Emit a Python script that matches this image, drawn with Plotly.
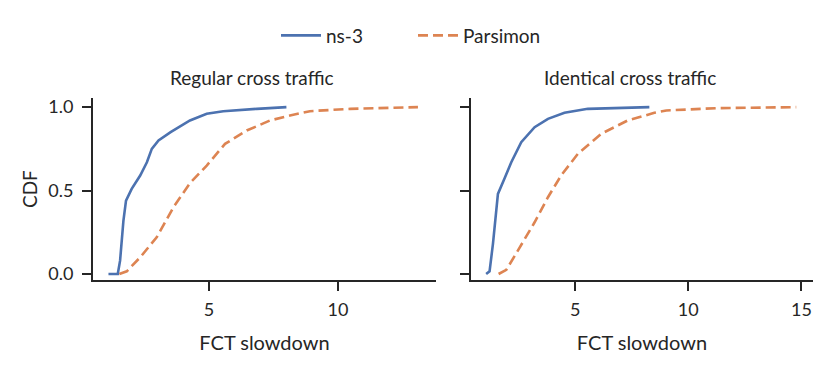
import plotly.graph_objects as go
from plotly.subplots import make_subplots

# Regular cross traffic
reg_ns3_x = [1.10, 1.46, 1.55, 1.68, 1.78, 2.00, 2.33, 2.59, 2.78, 3.04, 3.51, 4.26, 4.91, 5.55, 6.85, 8.00]
reg_ns3_y = [0.0, 0.0, 0.08, 0.32, 0.44, 0.51, 0.59, 0.67, 0.75, 0.80, 0.85, 0.92, 0.96, 0.976, 0.99, 1.0]
reg_pars_x = [1.52, 1.81, 2.33, 2.97, 3.62, 4.26, 4.91, 5.62, 6.46, 7.36, 8.14, 8.91, 10.47, 13.1]
reg_pars_y = [0.0, 0.016, 0.10, 0.22, 0.40, 0.545, 0.65, 0.78, 0.86, 0.92, 0.95, 0.976, 0.99, 1.0]

# Identical cross traffic
idn_ns3_x = [1.07, 1.22, 1.37, 1.59, 1.89, 2.18, 2.62, 3.21, 3.80, 4.53, 5.56, 6.88, 8.28]
idn_ns3_y = [0.0, 0.016, 0.18, 0.48, 0.575, 0.67, 0.79, 0.88, 0.93, 0.966, 0.99, 0.996, 1.0]
idn_pars_x = [1.62, 1.96, 2.47, 3.21, 3.80, 4.38, 5.12, 6.15, 7.32, 8.50, 9.03, 11.24, 14.77]
idn_pars_y = [0.0, 0.025, 0.14, 0.31, 0.46, 0.59, 0.72, 0.84, 0.92, 0.966, 0.98, 0.994, 1.0]

titles = ["Regular cross traffic", "Identical cross traffic"]
x_ticks = [5, 10, 15]
y_ticks = [0.0, 0.5, 1.0]

BLUE = '#4c72b0'
ORANGE = '#dd8452'
INK = '#262626'
FONT = 'Lato, DejaVu Sans, sans-serif'
W, H = 830, 371
OFF = 8  # page body margin pushes the figure by this much


def px_x(px):
    return (px - OFF) / W


def px_y(py):
    return 1 - (py - OFF) / H


fig = make_subplots(rows=1, cols=2, horizontal_spacing=0.04)

panels = [(reg_ns3_x, reg_ns3_y, reg_pars_x, reg_pars_y),
          (idn_ns3_x, idn_ns3_y, idn_pars_x, idn_pars_y)]
for i, (nx, ny, px, py) in enumerate(panels):
    fig.add_trace(go.Scatter(x=nx, y=ny, mode='lines', name='ns-3', showlegend=(i == 0),
                             line=dict(color=BLUE, width=2.6)), row=1, col=i + 1)
    fig.add_trace(go.Scatter(x=px, y=py, mode='lines', name='Parsimon', showlegend=(i == 0),
                             line=dict(color=ORANGE, width=2.6, dash='10px,5px')), row=1, col=i + 1)

axis_style = dict(showline=True, linecolor=INK, linewidth=2, ticks='outside', ticklen=9,
                  tickwidth=2, tickcolor=INK, showgrid=False, zeroline=False, mirror=False,
                  tickfont=dict(size=18, color=INK, family=FONT))

fig.update_xaxes(**axis_style, tickvals=x_ticks, ticklabelstandoff=4,
                 title=dict(text='FCT slowdown', font=dict(size=20, color=INK, family=FONT), standoff=17))
fig.update_xaxes(range=[0.5, 13.8], domain=[px_x(93), px_x(436)], row=1, col=1)
fig.update_xaxes(range=[0.40, 15.51], domain=[px_x(471), px_x(813)], row=1, col=2)

fig.update_yaxes(**axis_style, tickvals=y_ticks, tickformat='.1f', range=[-0.035, 1.053],
                 domain=[px_y(282), px_y(97)], ticklabelstandoff=5)
fig.update_yaxes(title=dict(text='CDF', font=dict(size=19, color=INK, family=FONT), standoff=6), row=1, col=1)
fig.update_yaxes(showticklabels=False, row=1, col=2)

for t, xc in zip(titles, [252, 630]):
    fig.add_annotation(text=t, x=px_x(xc), y=px_y(76), xref='paper', yref='paper',
                       showarrow=False, xanchor='center', yanchor='middle',
                       font=dict(size=19, color=INK, family=FONT))

fig.update_layout(width=W, height=H, margin=dict(l=0, r=0, t=0, b=0),
                  plot_bgcolor='white', paper_bgcolor='white',
                  font=dict(family=FONT, color=INK),
                  legend=dict(orientation='h', x=px_x(413), xanchor='center', y=px_y(33), yanchor='middle',
                              font=dict(size=19, color=INK, family=FONT), itemwidth=40,
                              entrywidth=82))

fig.write_html("out.html")
